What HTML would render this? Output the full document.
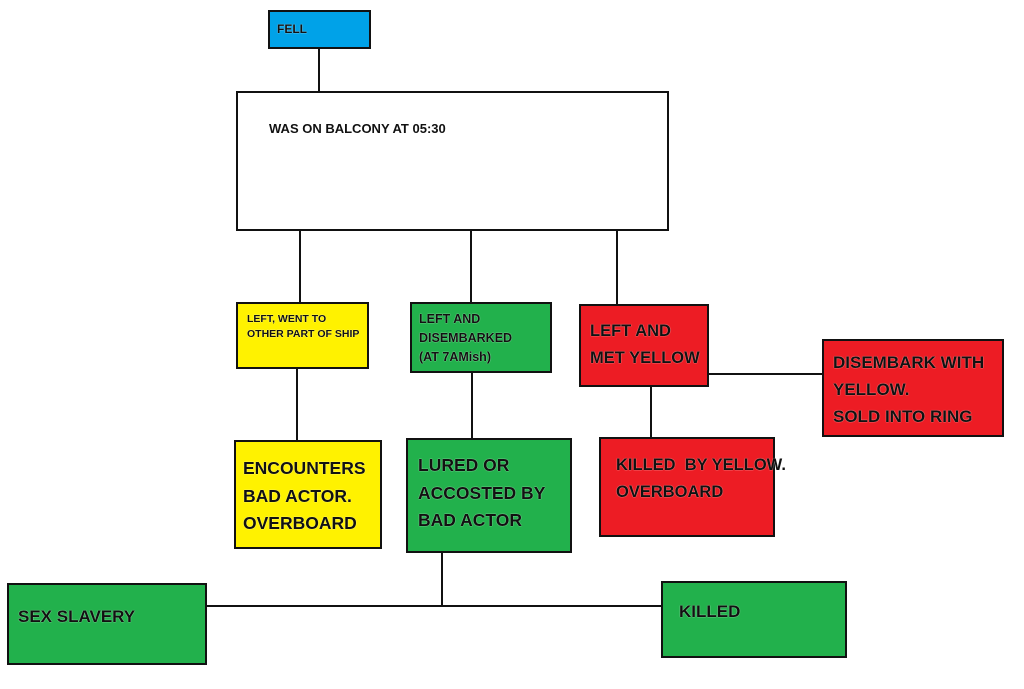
<!DOCTYPE html>
<html><head><style>
body{margin:0;width:1024px;height:689px;background:#fff;position:relative;overflow:hidden;font-family:"Liberation Sans",sans-serif;font-weight:bold;color:#111}
.b{position:absolute;border:2px solid #111;box-sizing:border-box}
.t{position:absolute;white-space:nowrap;text-shadow:0 0 1px #fff}
.l{position:absolute;background:#111}
.y{background:#fff200}.g{background:#22b14c}.r{background:#ed1c24}
</style></head><body>
<div class="b" style="left:268px;top:10px;width:103px;height:39px;background:#00a2e8"></div>
<div class="t" style="left:277px;top:22px;font-size:12px">FELL</div>
<div class="l" style="left:318px;top:48px;width:2px;height:44px"></div>
<div class="b" style="left:236px;top:91px;width:433px;height:140px"></div>
<div class="t" style="left:269px;top:121px;font-size:13px">WAS ON BALCONY AT 05:30</div>
<div class="l" style="left:299px;top:230px;width:2px;height:72px"></div>
<div class="l" style="left:470px;top:230px;width:2px;height:72px"></div>
<div class="l" style="left:616px;top:230px;width:2px;height:75px"></div>

<div class="b y" style="left:236px;top:302px;width:133px;height:67px"></div>
<div class="t" style="left:247px;top:312px;font-size:10.5px;line-height:15px">LEFT, WENT TO<br>OTHER PART OF SHIP</div>
<div class="b g" style="left:410px;top:302px;width:142px;height:71px"></div>
<div class="t" style="left:419px;top:310px;font-size:12.5px;line-height:19px">LEFT AND<br>DISEMBARKED<br>(AT 7AMish)</div>
<div class="b r" style="left:579px;top:304px;width:130px;height:83px"></div>
<div class="t" style="left:590px;top:318px;font-size:16.5px;line-height:27px">LEFT AND<br>MET YELLOW</div>
<div class="l" style="left:708px;top:373px;width:115px;height:2px"></div>
<div class="b r" style="left:822px;top:339px;width:182px;height:98px"></div>
<div class="t" style="left:833px;top:349px;font-size:17px;line-height:27px">DISEMBARK WITH<br>YELLOW.<br>SOLD INTO RING</div>

<div class="l" style="left:296px;top:368px;width:2px;height:72px"></div>
<div class="l" style="left:471px;top:372px;width:2px;height:66px"></div>
<div class="l" style="left:650px;top:386px;width:2px;height:52px"></div>

<div class="b y" style="left:234px;top:440px;width:148px;height:109px"></div>
<div class="t" style="left:243px;top:455px;font-size:17.5px;line-height:27.5px">ENCOUNTERS<br>BAD ACTOR.<br>OVERBOARD</div>
<div class="b g" style="left:406px;top:438px;width:166px;height:115px"></div>
<div class="t" style="left:418px;top:452px;font-size:17.5px;line-height:27.5px">LURED OR<br>ACCOSTED BY<br>BAD ACTOR</div>
<div class="b r" style="left:599px;top:437px;width:176px;height:100px"></div>
<div class="t" style="left:616px;top:452px;font-size:16.5px;line-height:27px">KILLED&nbsp; BY YELLOW.<br>OVERBOARD</div>

<div class="l" style="left:441px;top:552px;width:2px;height:55px"></div>
<div class="l" style="left:206px;top:605px;width:456px;height:2px"></div>
<div class="b g" style="left:7px;top:583px;width:200px;height:82px"></div>
<div class="t" style="left:18px;top:607px;font-size:17px">SEX SLAVERY</div>
<div class="b g" style="left:661px;top:581px;width:186px;height:77px"></div>
<div class="t" style="left:679px;top:602px;font-size:17px">KILLED</div>
</body></html>
